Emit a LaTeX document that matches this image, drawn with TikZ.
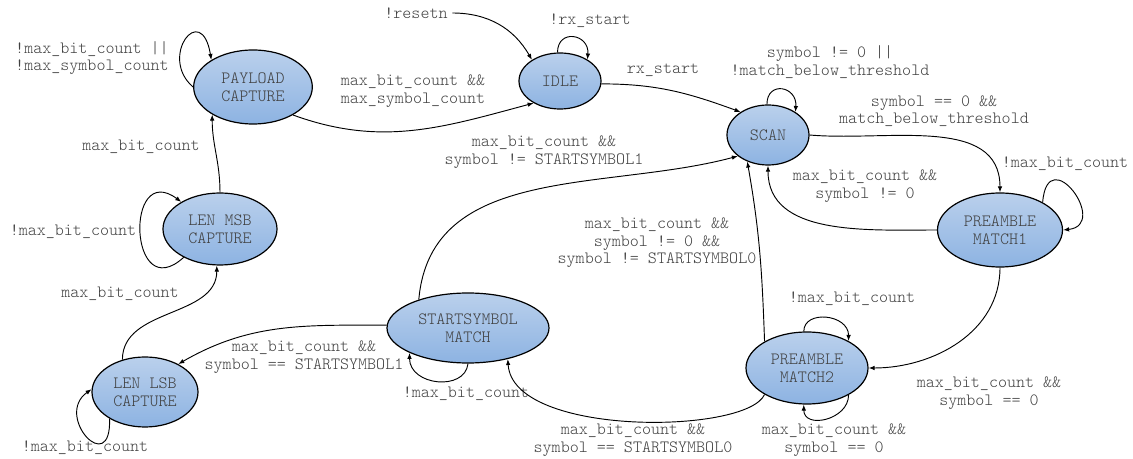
\documentclass[tikz,border=0pt]{standalone}
\usepackage{fontspec}
\setmonofont{lmmonolt10-regular.otf}
\usetikzlibrary{arrows.meta,shapes.geometric}
\definecolor{stTop}{HTML}{BAD0EC}
\definecolor{stBot}{HTML}{8DB3E2}
\definecolor{txt}{HTML}{404040}
\newcommand{\fsmfont}{\ttfamily\fontsize{12.9}{13.2}\selectfont}
\newcommand{\us}{\_}

\begin{document}
\begin{tikzpicture}[x=0.75pt,y=-0.75pt,
  every node/.style={font=\fsmfont,text=txt,align=center},
  state/.style={ellipse,draw=black,line width=0.9pt,top color=stTop,
    bottom color=stBot,inner sep=0pt},
  tr/.style={-{Latex[length=4.5pt,width=3.4pt]},line width=0.7pt}]
  \useasboundingbox (0,0) rectangle (1133,459);
  % states
  \node[state,minimum width=89pt,minimum height=55.5pt] (payload) at (253,87) {PAYLOAD\\CAPTURE};
  \node[state,minimum width=61.5pt,minimum height=42pt] (idle) at (560,81) {IDLE};
  \node[state,minimum width=61.5pt,minimum height=45pt] (scan) at (768,135) {SCAN};
  \node[state,minimum width=93.75pt,minimum height=55.5pt] (match1) at (1000,230) {PREAMBLE\\MATCH1};
  \node[state,minimum width=91.5pt,minimum height=54pt] (match2) at (807,368) {PREAMBLE\\MATCH2};
  \node[state,minimum width=121.5pt,minimum height=52.5pt] (startsym) at (468,328) {STARTSYMBOL\\MATCH};
  \node[state,minimum width=85.5pt,minimum height=54pt] (lenmsb) at (220,229) {LEN MSB\\CAPTURE};
  \node[state,minimum width=79.5pt,minimum height=52.5pt] (lenlsb) at (145,392) {LEN LSB\\CAPTURE};
  % labels
  \node (lPayLoop) at (92,58) {!max\us bit\us count ||\\!max\us symbol\us count};
  \node (lRst) at (416,13) {!resetn};
  \node (lIdleLoop) at (590,21) {!rx\us start};
  \node (lRx) at (663,70) {rx\us start};
  \node (lScanLoop) at (830,62) {symbol != 0 ||\\!match\us below\us threshold};
  \node (lScanM1) at (934,111) {symbol == 0 \&\&\\match\us below\us threshold};
  \node (lPayIdle) at (413,91) {max\us bit\us count \&\&\\max\us symbol\us count};
  \node (lSsScan) at (544,152) {max\us bit\us count \&\&\\symbol != STARTSYMBOL1};
  \node (lMsbPay) at (141,147) {max\us bit\us count};
  \node (lM1Loop) at (1065,164) {!max\us bit\us count};
  \node (lM1Scan) at (865,186) {max\us bit\us count \&\&\\symbol != 0};
  \node (lMsbLoop) at (73,232) {!max\us bit\us count};
  \node (lM2Scan) at (657,243) {max\us bit\us count \&\&\\symbol != 0 \&\&\\symbol != STARTSYMBOL0};
  \node (lLsbMsb) at (120,294) {max\us bit\us count};
  \node (lM2Loop) at (852,299) {!max\us bit\us count};
  \node (lSsLsb) at (304,357) {max\us bit\us count \&\&\\symbol == STARTSYMBOL1};
  \node (lM1M2) at (989,393) {max\us bit\us count \&\&\\symbol == 0};
  \node (lSsLoop) at (466,394) {!max\us bit\us count};
  \node (lLsbLoop) at (85,448) {!max\us bit\us count};
  \node (lM2Ss) at (633,440) {max\us bit\us count \&\&\\symbol == STARTSYMBOL0};
  \node (lM2Self) at (834,440) {max\us bit\us count \&\&\\symbol == 0};
  % transitions
  \draw[tr] (lRst.east) to[out=0,in=120] (idle.143);
  \draw[tr] (idle.95) .. controls +(0,-24) and +(2,-26) .. (idle.38);
  \draw[tr] (idle.-4) to[out=0,in=160] (scan.140);
  \draw[tr] (scan.92) .. controls +(0,-24) and +(2,-26) .. (scan.40);
  \draw[tr] (payload.-35) to[out=-20,in=195] (idle.-140);
  \draw[tr] (payload.180) .. controls +(-35,-30) and +(-10,-60) .. (payload.147);
  \draw[tr] (lenmsb.90) to[out=90,in=-90] (payload.-146);
  \draw[tr] (lenmsb.218) .. controls +(-55,50) and +(-57,-42) .. (lenmsb.145);
  \draw[tr] (lenlsb.125) to[out=90,in=-90] (lenmsb.-95);
  \draw[tr] (lenlsb.217) .. controls +(2,60) and +(-38,27) .. (lenlsb.177);
  \draw[tr] (startsym.178) to[out=180,in=30] (lenlsb.40);
  \draw[tr] (startsym.-90) .. controls +(-3,28) and +(0,33) .. (startsym.-157);
  \draw[tr] (startsym.150) to[out=85,in=195] (scan.-145);
  \draw[tr] (scan.0) to[out=-5,in=90] (match1.90);
  \draw[tr] (match1.180) to[out=180,in=-90] (scan.-90);
  \draw[tr] (match1.33) .. controls +(5,-62) and +(47,-5) .. (match1.0);
  \draw[tr] (match1.-90) to[out=-90,in=0] (match2.0);
  \draw[tr] (match2.95) .. controls +(0,-22) and +(0,-27) .. (match2.33);
  \draw[tr] (match2.-33) .. controls +(0,25) and +(0,25) .. (match2.-95);
  \draw[tr] (match2.148) to[out=92,in=-80] (scan.-128);
  \draw[tr] (match2.-148) .. controls +(-18,40) and +(5,78) .. (startsym.-38);
\end{tikzpicture}
\end{document}
